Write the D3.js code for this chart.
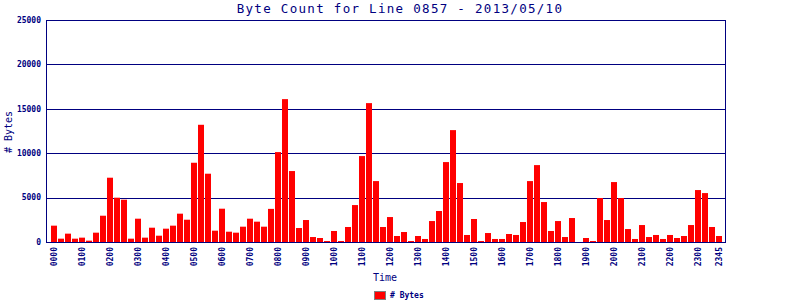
<!DOCTYPE html>
<html>
<head>
<meta charset="utf-8">
<script src="https://cdn.jsdelivr.net/npm/d3@7"></script>
<style>
  body { margin: 0; background: #fff; }
  text { font-family: "DejaVu Sans Mono", monospace; fill: #000080; }
</style>
</head>
<body>
<div id="chart"></div>
<script>
// byte counts, one per 15 minutes (0000 ... 2345)
var byteCounts = [
    1840, 375, 940, 375, 490, 150, 1050, 2960,
    7240, 4990, 4760, 375, 2625, 490, 1610, 710,
    1500, 1840, 3190, 2510, 8925, 13200, 7690, 1275,
    3750, 1160, 1050, 1725, 2625, 2290, 1725, 3730,
    10125, 16090, 7990, 1575, 2475, 560, 450, 110,
    1240, 110, 1690, 4160, 9675, 15640, 6860, 1690,
    2810, 675, 1125, 110, 675, 340, 2360, 3490,
    9000, 12600, 6640, 790, 2590, 110, 1010, 340,
    340, 900, 790, 2250, 6860, 8660, 4500, 1240,
    2360, 560, 2700, 0, 450, 110, 4950, 2475,
    6750, 4950, 1460, 340, 1910, 560, 790, 340,
    790, 450, 675, 1910, 5850, 5510, 1690, 675
];

var timeLabels = [];
for (i = 0; i < 24; i++) {
    ["00", "15", "30", "45"].forEach(function (m) {
        timeLabels.push(d3.format("02d")(i) + m)
    })
}

var tickLabels = ["0000", "0100", "0200", "0300", "0400", "0500", "0600", "0700",
    "0800", "0900", "1000", "1100", "1200", "1300", "1400", "1500", "1600", "1700",
    "1800", "1900", "2000", "2100", "2200", "2300", "2345"];

var yTicks = [0, 5000, 10000, 15000, 20000, 25000];

var chartTitle = "Byte Count for Line 0857 - 2013/05/10";
var seriesName = "# Bytes";

var data = [];
for (i = 0; i < byteCounts.length; i++) {
    data.push({ "time": timeLabels[i], "bytes": byteCounts[i] })
}

// set the dimensions and margins of the graph
var margin = { top: 20, right: 75, bottom: 58, left: 46 },
    width = 800 - margin.left - margin.right,
    height = 300 - margin.top - margin.bottom;

var navy = "#000080";

var root = d3.select("#chart")
    .append("svg")
    .attr("width", 800)
    .attr("height", 300);

var svg = root.append("g")
    .attr("transform", "translate(" + margin.left + "," + margin.top + ")");

var x = d3.scaleBand()
    .domain(timeLabels)
    .range([5, width - 3])
    .paddingInner(1 / 7)
    .paddingOuter(0);

var y = d3.scaleLinear()
    .domain([0, 25000])
    .range([height, 0]);

// grid lines
svg.append("g")
    .selectAll("line.grid")
    .data(yTicks.filter(function (d) { return d > 0 }))
    .enter()
    .append("line")
    .attr("class", "grid")
    .attr("x1", 0)
    .attr("x2", width)
    .attr("y1", function (d) { return Math.round(y(d)) + 0.5 })
    .attr("y2", function (d) { return Math.round(y(d)) + 0.5 })
    .attr("stroke", navy)
    .attr("stroke-width", 1);

// bars
svg.append("g")
    .selectAll("rect")
    .data(data)
    .enter()
    .append("rect")
    .attr("x", function (d) { return x(d.time) })
    .attr("y", function (d) { return y(d.bytes) })
    .attr("width", x.bandwidth())
    .attr("height", function (d) { return height - y(d.bytes) })
    .attr("fill", "#ff0000");

// frame: left, right, bottom
svg.append("line")
    .attr("x1", 0.5).attr("x2", 0.5).attr("y1", 0).attr("y2", height + 0.5)
    .attr("stroke", navy);
svg.append("line")
    .attr("x1", width + 0.5).attr("x2", width + 0.5).attr("y1", 0).attr("y2", height + 0.5)
    .attr("stroke", navy);
svg.append("line")
    .attr("x1", 0).attr("x2", width + 1).attr("y1", height + 0.5).attr("y2", height + 0.5)
    .attr("stroke", navy);

// y tick labels
svg.append("g")
    .selectAll("text.ytick")
    .data(yTicks)
    .enter()
    .append("text")
    .attr("class", "ytick")
    .attr("x", -5)
    .attr("y", function (d) { return y(d) })
    .attr("dy", "0.35em")
    .attr("text-anchor", "end")
    .style("font-size", "8px")
    .style("font-weight", "bold")
    .text(function (d) { return d });

// x tick labels (rotated)
svg.append("g")
    .selectAll("text.xtick")
    .data(tickLabels)
    .enter()
    .append("text")
    .attr("class", "xtick")
    .attr("transform", function (d) {
        return "translate(" + (x(d) + x.bandwidth() / 2 + 3) + "," + (height + 5) + ") rotate(-90)"
    })
    .attr("text-anchor", "end")
    .style("font-size", "8px")
    .style("font-weight", "bold")
    .text(function (d) { return d });

// title
root.append("text")
    .attr("x", 400)
    .attr("y", 13)
    .attr("text-anchor", "middle")
    .style("font-size", "12.5px")
    .style("letter-spacing", "1.3px")
    .text(chartTitle);

// axis titles
root.append("text")
    .attr("x", 385)
    .attr("y", 281)
    .attr("text-anchor", "middle")
    .style("font-size", "10px")
    .text("Time");

root.append("text")
    .attr("transform", "translate(12,132) rotate(-90)")
    .attr("text-anchor", "middle")
    .style("font-size", "10px")
    .text(seriesName);

// legend
root.append("rect")
    .attr("x", 374.5)
    .attr("y", 291.5)
    .attr("width", 11)
    .attr("height", 8)
    .attr("fill", "#ff0000")
    .attr("stroke", "#808080");

root.append("text")
    .attr("x", 390)
    .attr("y", 298)
    .style("font-size", "8px")
    .style("font-weight", "bold")
    .text(seriesName);
</script>
</body>
</html>
